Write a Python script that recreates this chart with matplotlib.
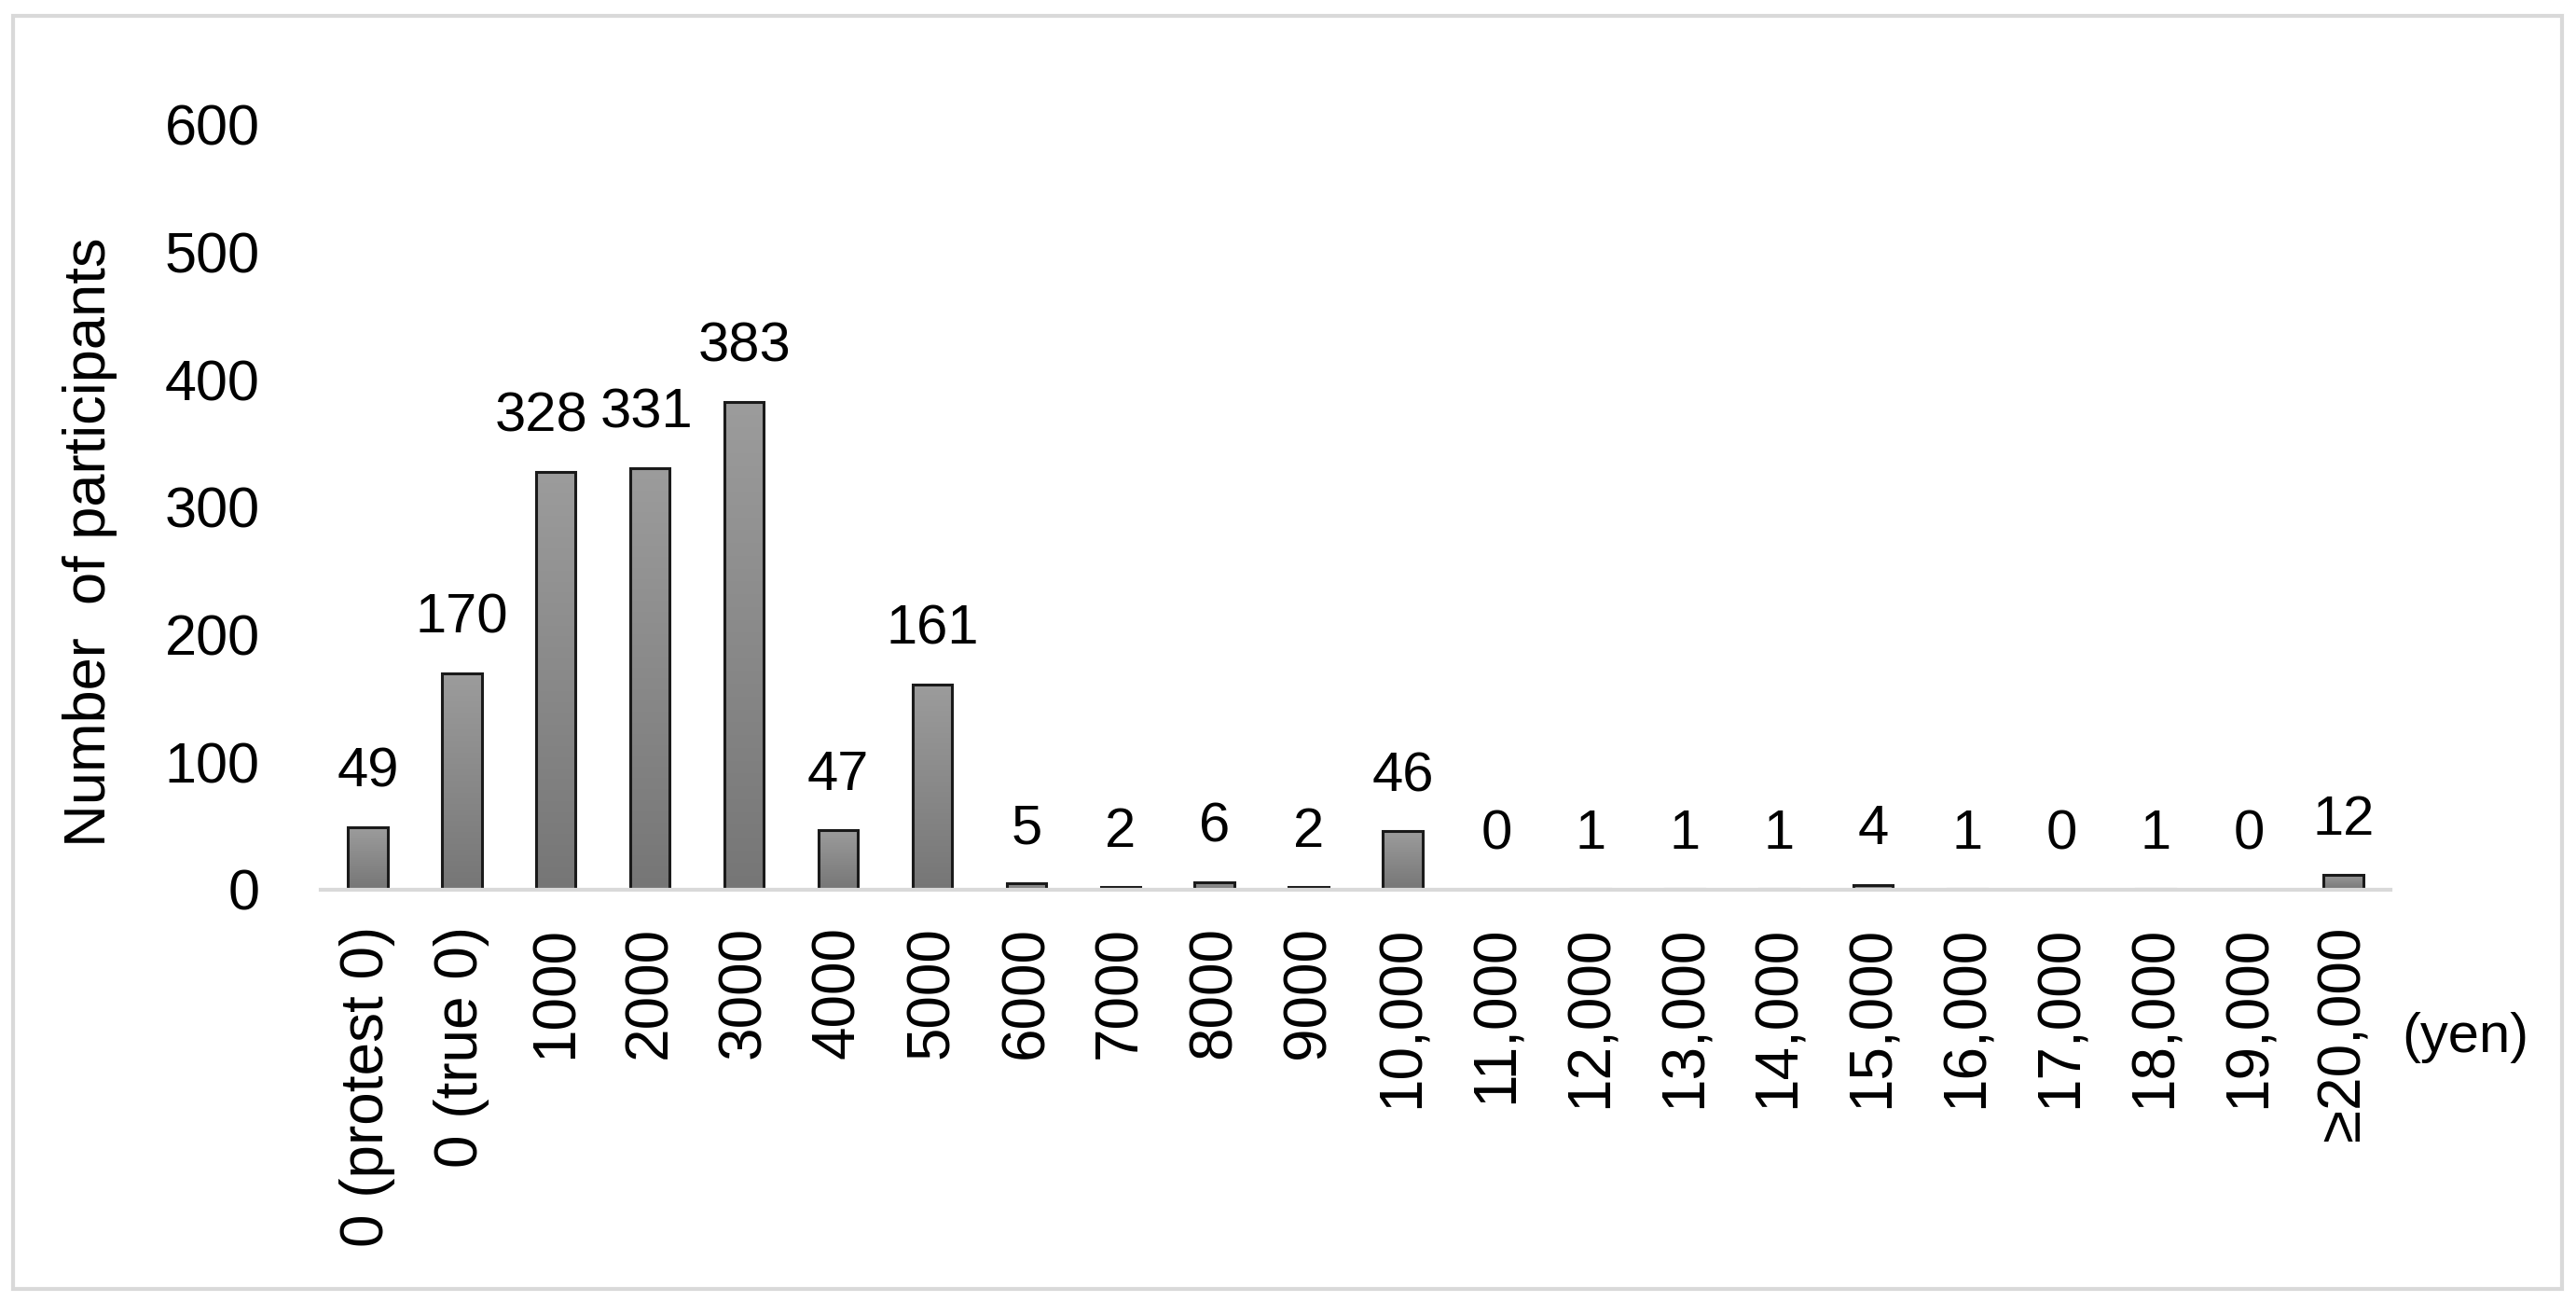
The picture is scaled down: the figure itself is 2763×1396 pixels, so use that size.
import matplotlib
matplotlib.use("Agg")
import matplotlib.pyplot as plt
import numpy as np
from matplotlib.patches import Rectangle

plt.rcParams['font.family'] = ['Liberation Sans', 'DejaVu Sans']

categories = ["0 (protest 0)", "0 (true 0)", "1000", "2000", "3000", "4000", "5000",
              "6000", "7000", "8000", "9000", "10,000", "11,000", "12,000", "13,000",
              "14,000", "15,000", "16,000", "17,000", "18,000", "19,000", "\u226520,000"]
counts = [49, 170, 328, 331, 383, 47, 161, 5, 2, 6, 2, 46, 0, 1, 1, 1, 4, 1, 0, 1, 0, 12]
yticks = [0, 100, 200, 300, 400, 500, 600]

W, H = 2763, 1396
dpi = 100
FS = 43
fig = plt.figure(figsize=(W / dpi, H / dpi), dpi=dpi)
fig.patch.set_facecolor("white")

# outer border
fig.add_artist(Rectangle((14 / W, 1 - 1382 / H), (2748 - 14) / W, (1382 - 17) / H,
                         transform=fig.transFigure, fill=False,
                         edgecolor="#d9d9d9", linewidth=3))

ax = fig.add_axes([344 / W, 1 - 954 / H, (2564 - 344) / W, (954 - 134) / H])
x = np.arange(len(categories))
bars = ax.bar(x, counts, width=0.42, color="#888888", edgecolor="#1a1a1a",
              linewidth=2.2, zorder=3)

grad = np.linspace(0, 1, 256).reshape(-1, 1)
cmap = matplotlib.colors.LinearSegmentedColormap.from_list("g", ["#9c9c9c", "#767676"])
for b in bars:
    h = b.get_height()
    if h <= 0:
        continue
    im = ax.imshow(grad, cmap=cmap, aspect="auto",
                   extent=(b.get_x(), b.get_x() + b.get_width(), 0, h),
                   origin="upper", zorder=2.5, interpolation="bilinear")
    im.set_clip_path(b)
    b.set_facecolor("none")

# small horizontal nudges so neighbouring labels do not collide
nudge = {2: -11, 3: -3}
for i, (b, v) in enumerate(zip(bars, counts)):
    ax.annotate(str(v), (b.get_x() + b.get_width() / 2, v),
                xytext=(nudge.get(i, 0), 31),
                textcoords="offset points", ha="center", va="baseline", fontsize=FS)

ax.set_xlim(-0.5, len(categories) - 0.5)
ax.set_ylim(0, 600)
ax.set_yticks(yticks)
ax.set_yticklabels([str(t) for t in yticks], fontsize=44)
ax.set_xticks(x)
ax.set_xticklabels(categories, rotation=90, fontsize=46, va="top", ha="center")
ax.tick_params(axis="both", length=0)
ax.tick_params(axis="x", pad=28)
ax.tick_params(axis="y", pad=47)
for s in ["top", "right", "left"]:
    ax.spines[s].set_visible(False)
ax.spines["bottom"].set_color("#d9d9d9")
ax.spines["bottom"].set_linewidth(3)
ax.spines["bottom"].set_zorder(4)

fig.text(97 / W, 1 - 581 / H, "Number  of participants", fontsize=45.5,
         rotation=90, ha="center", va="center")

fig.text(2576 / W, 1 - 1113 / H, "(yen)", fontsize=FS, ha="left", va="center")

fig.savefig("out.png", dpi=dpi, facecolor="white")
